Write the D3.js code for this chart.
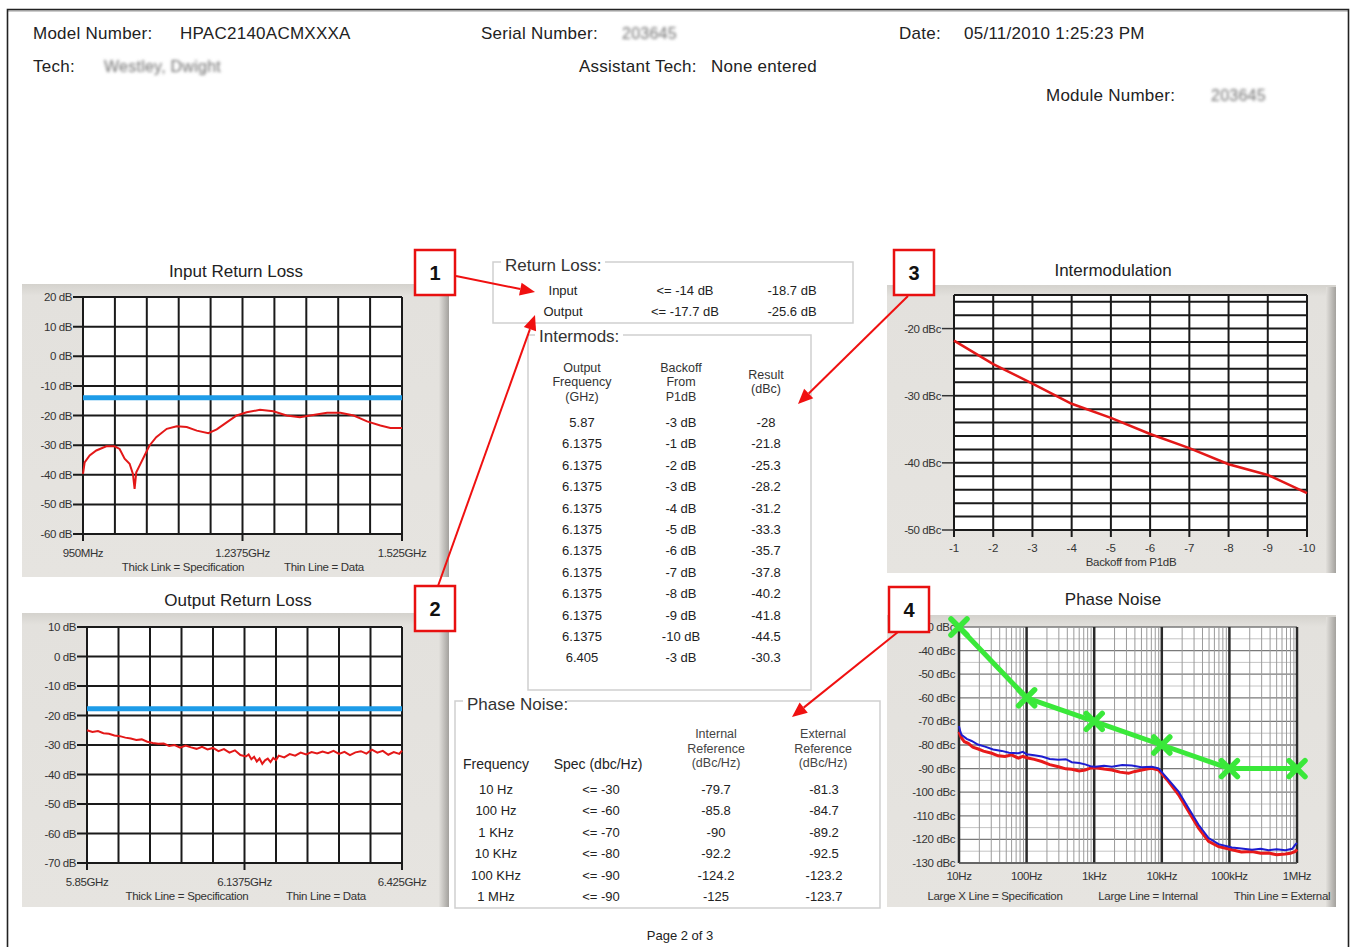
<!DOCTYPE html>
<html lang="en">
<head>
<meta charset="UTF-8">
<title>Test Report - Page 2</title>
<script src="https://d3js.org/d3.v7.min.js"></script>
<style>
  body { margin: 0; background: #fff; }
  svg { display: block; font-family: "Liberation Sans", Arial, sans-serif; }
</style>
</head>
<body>
<div id="page"></div>
<script>
// ---- header values
const headerModel = "HPAC2140ACMXXXA";
const headerSerial = "203645";
const headerDate = "05/11/2010 1:25:23 PM";
const headerTech = "Westley, Dwight";
const headerAssistant = "None entered";
const headerModule = "203645";

// ---- input return loss (MHz, dB)
const inputSpec = -14;
const inputFreqMHz = [950, 953, 962, 974, 992, 1007, 1016, 1025, 1034, 1040, 1043, 1046, 1052, 1061, 1070, 1082, 1101, 1119, 1137, 1155, 1176, 1191, 1209, 1227, 1245, 1269, 1293, 1317, 1341, 1365, 1390, 1414, 1438, 1462, 1486, 1504, 1525];
const inputRL = [-39.7, -35.8, -33.5, -31.8, -30.4, -30.4, -31.3, -34.6, -36.3, -39.7, -44.8, -39.2, -36.9, -33.5, -30.1, -27.3, -24.5, -23.6, -23.9, -25.1, -26.0, -24.7, -22.3, -20.0, -18.9, -18.1, -18.6, -20.0, -20.6, -19.8, -19.1, -19.1, -20.0, -22.0, -23.4, -24.2, -24.2];

// ---- output return loss (GHz, dB)
const outputSpec = -17.7;
const outputFreqGHz = [5.85, 5.86, 5.87, 5.88, 5.89, 5.90, 5.91, 5.92, 5.93, 5.94, 5.95, 5.96, 5.97, 5.98, 5.99, 6.00, 6.01, 6.02, 6.03, 6.04, 6.05, 6.06, 6.07, 6.08, 6.09, 6.10, 6.11, 6.12, 6.13, 6.14, 6.145, 6.15, 6.155, 6.16, 6.165, 6.17, 6.175, 6.18, 6.185, 6.19, 6.195, 6.20, 6.21, 6.22, 6.23, 6.24, 6.25, 6.26, 6.27, 6.28, 6.29, 6.30, 6.31, 6.32, 6.33, 6.34, 6.35, 6.36, 6.37, 6.38, 6.39, 6.40, 6.41, 6.42, 6.425];
const outputRL = [-25.0, -25.6, -25.3, -26.0, -26.2, -26.8, -27.0, -27.5, -27.8, -28.3, -28.1, -28.9, -29.3, -29.6, -29.5, -30.3, -30.0, -30.9, -30.2, -30.8, -31.3, -30.6, -31.5, -31.0, -32.1, -31.4, -32.6, -31.8, -33.4, -33.9, -33.2, -34.8, -34.0, -35.6, -34.6, -36.4, -35.2, -34.6, -35.8, -34.4, -35.1, -33.6, -34.2, -33.1, -33.6, -32.6, -33.2, -32.4, -32.9, -32.2, -32.8, -32.0, -33.0, -32.3, -33.4, -32.5, -32.1, -32.9, -31.6, -32.6, -32.0, -33.3, -32.4, -33.0, -31.9];

// ---- return loss summary table
const rlPorts = ["Input", "Output"];
const rlSpecs = ["<= -14 dB", "<= -17.7 dB"];
const rlResults = ["-18.7 dB", "-25.6 dB"];

// ---- intermods table
const imFreq = ["5.87", "6.1375", "6.1375", "6.1375", "6.1375", "6.1375", "6.1375", "6.1375", "6.1375", "6.1375", "6.1375", "6.405"];
const imBackoff = [-3, -1, -2, -3, -4, -5, -6, -7, -8, -9, -10, -3];
const imResult = [-28, -21.8, -25.3, -28.2, -31.2, -33.3, -35.7, -37.8, -40.2, -41.8, -44.5, -30.3];

// ---- phase noise table
const pnFreqLabels = ["10 Hz", "100 Hz", "1 KHz", "10 KHz", "100 KHz", "1 MHz"];
const pnSpecLabels = ["<= -30", "<= -60", "<= -70", "<= -80", "<= -90", "<= -90"];
const pnInternal = [-79.7, -85.8, -90, -92.2, -124.2, -125];
const pnExternal = [-81.3, -84.7, -89.2, -92.5, -123.2, -123.7];

// ---- phase noise plot
const specFreqHz = [10, 100, 1e3, 1e4, 1e5, 1e6];
const specLimit = [-30, -60, -70, -80, -90, -90];
const intFreqHz = [10, 10.5, 11, 12, 13.7, 16, 19.3, 23, 30.5, 38, 48, 60, 75.7, 88, 100, 130, 168, 220, 296, 380, 466, 600, 734, 880, 1033, 1400, 1824, 2400, 3216, 4000, 5070, 6000, 7130, 8950, 12590, 17700, 24900, 35000, 49200, 69200, 109000, 150000, 216000, 290000, 380000, 500000, 671000, 800000, 944000, 1e6];
const intNoise = [-74.4, -76.0, -77.2, -78.6, -79.3, -80.9, -81.7, -82.6, -83.5, -84.6, -84.9, -84.2, -85.6, -84.8, -85.4, -86.1, -87.0, -88.3, -89.2, -90.1, -90.3, -91.0, -90.6, -89.8, -89.6, -90.2, -90.6, -91.5, -92.0, -91.2, -90.6, -90.2, -89.9, -90.6, -95.5, -101.1, -108.2, -115.2, -120.8, -123.0, -124.4, -125.3, -125.1, -125.9, -125.8, -126.5, -126.2, -125.9, -125.1, -124.3];
const extFreqHz = [10, 10.5, 11, 13, 15.4, 19, 24.3, 32, 42.9, 55, 75.7, 88, 100, 130, 168, 220, 296, 380, 466, 600, 734, 880, 1033, 1400, 1824, 2600, 3605, 5000, 7130, 8950, 12590, 17700, 24900, 35000, 49200, 69200, 109000, 150000, 216000, 290000, 380000, 500000, 671000, 850000, 944000, 1e6];
const extNoise = [-72.0, -74.5, -75.8, -77.4, -78.3, -79.8, -80.7, -81.9, -82.5, -83.3, -83.5, -82.9, -83.9, -84.3, -84.9, -85.9, -86.3, -86.0, -87.3, -87.6, -88.2, -89.0, -89.2, -88.8, -89.2, -88.5, -88.7, -89.4, -89.2, -89.9, -94.8, -99.7, -106.8, -113.8, -119.4, -122.0, -123.4, -123.9, -124.4, -124.0, -124.6, -124.2, -124.6, -124.0, -122.2, -121.5];
const pnTickLabels = ["10Hz", "100Hz", "1kHz", "10kHz", "100kHz", "1MHz"];

const svg = d3.select("#page").append("svg")
    .attr("width", 1351)
    .attr("height", 947);

const defs = svg.append("defs");
defs.append("filter").attr("id", "blur")
    .attr("x", "-20%").attr("y", "-50%").attr("width", "140%").attr("height", "200%")
    .append("feGaussianBlur").attr("stdDeviation", 1.8);
const edge = defs.append("linearGradient").attr("id", "edge");
edge.append("stop").attr("offset", 0).attr("stop-color", "#e2e0dc");
edge.append("stop").attr("offset", 1).attr("stop-color", "#a3a19d");
const fill = defs.append("linearGradient").attr("id", "panelFill")
    .attr("x1", 0).attr("y1", 0).attr("x2", 0).attr("y2", 1);
fill.append("stop").attr("offset", 0).attr("stop-color", "#d4d2cd");
fill.append("stop").attr("offset", 0.04).attr("stop-color", "#e3e1dd");
fill.append("stop").attr("offset", 1).attr("stop-color", "#e6e4e0");

// page frame
svg.append("line").attr("x1", 7).attr("x2", 1349).attr("y1", 11).attr("y2", 11).attr("stroke", "#bbb").attr("stroke-width", 1.5);
svg.append("path").attr("d", "M7.5,947 V9.5 H1348.5 V947")
    .attr("fill", "none").attr("stroke", "#222").attr("stroke-width", 1.6);

// ---- header
function txt(g, x, y, s, size, anchor) {
    return g.append("text").attr("x", x).attr("y", y)
        .attr("font-size", size).attr("fill", "#222")
        .attr("text-anchor", anchor || "start").text(s);
}
const head = svg.append("g").attr("letter-spacing", 0.25);
txt(head, 33, 39, "Model Number:", 17);
txt(head, 180, 39, headerModel, 17);
txt(head, 481, 39, "Serial Number:", 17);
txt(head, 622, 39, headerSerial, 16).attr("fill", "#6f6f6f").attr("filter", "url(#blur)");
txt(head, 899, 39, "Date:", 17);
txt(head, 964, 39, headerDate, 17);
txt(head, 33, 72, "Tech:", 17);
txt(head, 104, 72, headerTech, 16).attr("fill", "#6f6f6f").attr("filter", "url(#blur)");
txt(head, 579, 72, "Assistant Tech:", 17);
txt(head, 711, 72, headerAssistant, 17);
txt(head, 1046, 101, "Module Number:", 17);
txt(head, 1211, 101, headerModule, 16).attr("fill", "#6f6f6f").attr("filter", "url(#blur)");

// gray chart panel with shaded right edge
function panel(x, y, w, h) {
    svg.append("rect").attr("x", x).attr("y", y).attr("width", w).attr("height", h).attr("fill", "url(#panelFill)");
    svg.append("rect").attr("x", x + w - 10).attr("y", y + 2).attr("width", 10).attr("height", h - 2).attr("fill", "url(#edge)");
}

// ---- return loss charts
function returnLossChart(c) {
    panel(c.panel[0], c.panel[1], c.panel[2], c.panel[3]);
    const g = svg.append("g");
    txt(g, c.titleX, c.titleY, c.title, 17, "middle");

    const x = d3.scaleLinear().domain(c.xDomain).range([c.x0, c.x1]);
    const y = d3.scaleLinear().domain(c.yDomain).range([c.y1, c.y0]);

    g.append("rect").attr("x", c.x0).attr("y", c.y0)
        .attr("width", c.x1 - c.x0).attr("height", c.y1 - c.y0).attr("fill", "#fff");

    const yTicks = d3.range(c.yDomain[0], c.yDomain[1] + 1, 10);
    g.selectAll(".hg").data(yTicks).join("line")
        .attr("x1", c.x0 - 10).attr("x2", c.x1)
        .attr("y1", d => y(d)).attr("y2", d => y(d))
        .attr("stroke", "#1a1a1a").attr("stroke-width", 2);
    g.selectAll(".yl").data(yTicks).join("text")
        .attr("x", c.x0 - 11).attr("y", d => y(d)).attr("dy", "0.35em")
        .attr("text-anchor", "end").attr("font-size", 11.5).attr("fill", "#333")
        .attr("letter-spacing", -0.4)
        .text(d => d + " dB");

    const step = (c.xDomain[1] - c.xDomain[0]) / 10;
    const xGrid = d3.range(11).map(i => c.xDomain[0] + i * step);
    g.selectAll(".vg").data(xGrid).join("line")
        .attr("x1", d => x(d)).attr("x2", d => x(d))
        .attr("y1", c.y0).attr("y2", (d, i) => (i % 5 === 0 ? c.y1 + 7 : c.y1))
        .attr("stroke", "#1a1a1a").attr("stroke-width", 2);
    g.selectAll(".xl").data(c.xLabels).join("text")
        .attr("x", (d, i) => x(xGrid[i * 5])).attr("y", c.xLabelY)
        .attr("text-anchor", "middle").attr("font-size", 11.5).attr("fill", "#333")
        .attr("letter-spacing", -0.4)
        .text(d => d);

    txt(g, c.legend[0][0], c.legendY, c.legend[0][1], 11.5, "middle").attr("letter-spacing", -0.3).attr("fill", "#333");
    txt(g, c.legend[1][0], c.legendY, c.legend[1][1], 11.5, "middle").attr("letter-spacing", -0.3).attr("fill", "#333");

    g.append("line").attr("x1", c.x0).attr("x2", c.x1)
        .attr("y1", y(c.spec)).attr("y2", y(c.spec))
        .attr("stroke", "#1e9ce8").attr("stroke-width", 5);

    const line = d3.line().x((d, i) => x(c.xs[i])).y(d => y(d));
    g.append("path").datum(c.ys).attr("d", line)
        .attr("fill", "none").attr("stroke", "#e31818").attr("stroke-width", 2);
}

returnLossChart({
    panel: [22, 284, 427, 293], title: "Input Return Loss", titleX: 236, titleY: 277,
    x0: 83, x1: 402, y0: 297, y1: 534,
    xDomain: [950, 1525], yDomain: [-60, 20],
    xLabels: ["950MHz", "1.2375GHz", "1.525GHz"], xLabelY: 557,
    legend: [[183, "Thick Link = Specification"], [324, "Thin Line = Data"]], legendY: 571,
    spec: inputSpec, xs: inputFreqMHz, ys: inputRL
});

returnLossChart({
    panel: [22, 613, 427, 294], title: "Output Return Loss", titleX: 238, titleY: 606,
    x0: 87, x1: 402, y0: 627, y1: 863,
    xDomain: [5.85, 6.425], yDomain: [-70, 10],
    xLabels: ["5.85GHz", "6.1375GHz", "6.425GHz"], xLabelY: 886,
    legend: [[187, "Thick Line = Specification"], [326, "Thin Line = Data"]], legendY: 900,
    spec: outputSpec, xs: outputFreqGHz, ys: outputRL
});

// ---- intermodulation chart
{
    panel(887, 285, 449, 288);
    const g = svg.append("g");
    txt(g, 1113, 276, "Intermodulation", 17, "middle");
    const x = d3.scaleLinear().domain([-1, -10]).range([954, 1307]);
    const y = d3.scaleLinear().domain([-50, -15]).range([530, 295]);
    g.append("rect").attr("x", 954).attr("y", 295).attr("width", 353).attr("height", 235).attr("fill", "#fff");

    g.selectAll(".hg").data(d3.range(-50, -15, 2).concat([-15])).join("line")
        .attr("x1", 954).attr("x2", 1307)
        .attr("y1", d => y(d)).attr("y2", d => y(d))
        .attr("stroke", "#1a1a1a").attr("stroke-width", 2);
    const yTicks = [-50, -40, -30, -20];
    g.selectAll(".yt").data(yTicks).join("line")
        .attr("x1", 942).attr("x2", 954)
        .attr("y1", d => y(d)).attr("y2", d => y(d))
        .attr("stroke", "#333").attr("stroke-width", 1.5);
    g.selectAll(".yl").data(yTicks).join("text")
        .attr("x", 941).attr("y", d => y(d)).attr("dy", "0.35em")
        .attr("text-anchor", "end").attr("font-size", 11.5).attr("fill", "#333")
        .attr("letter-spacing", -0.4).text(d => d + " dBc");

    const xTicks = d3.range(-1, -11, -1);
    g.selectAll(".vg").data(xTicks).join("line")
        .attr("x1", d => x(d)).attr("x2", d => x(d))
        .attr("y1", 295).attr("y2", 537)
        .attr("stroke", "#1a1a1a").attr("stroke-width", 2);
    g.selectAll(".xl").data(xTicks).join("text")
        .attr("x", d => x(d)).attr("y", 552)
        .attr("text-anchor", "middle").attr("font-size", 11.5).attr("fill", "#333")
        .text(d => d);
    txt(g, 1131, 566, "Backoff from P1dB", 11.5, "middle").attr("letter-spacing", -0.3).attr("fill", "#333");

    const rows = imBackoff.map((b, i) => ({ b: b, r: imResult[i], f: imFreq[i] }))
        .filter(d => d.f === "6.1375");
    g.append("path").datum(rows)
        .attr("d", d3.line().x(d => x(d.b)).y(d => y(d.r)))
        .attr("fill", "none").attr("stroke", "#e31818").attr("stroke-width", 2.5);
}

// ---- phase noise chart
{
    panel(887, 615, 449, 292);
    const g = svg.append("g");
    txt(g, 1113, 605, "Phase Noise", 17, "middle");
    const x = d3.scaleLog().domain([10, 1e6]).range([959, 1297]);
    const y = d3.scaleLinear().domain([-130, -30]).range([863, 627]);
    g.append("rect").attr("x", 959).attr("y", 627).attr("width", 338).attr("height", 236).attr("fill", "#fff");

    g.selectAll(".hg").data(d3.range(-130, -29, 5)).join("line")
        .attr("x1", 959).attr("x2", 1297)
        .attr("y1", d => y(d)).attr("y2", d => y(d))
        .attr("stroke", d => (d % 10 === 0 ? "#7a7a7a" : "#bdbdbd"))
        .attr("stroke-width", d => (d % 10 === 0 ? 1.3 : 0.9));

    const minors = [];
    [10, 100, 1e3, 1e4, 1e5].forEach(dec => d3.range(2, 10).forEach(k => minors.push(dec * k)));
    g.selectAll(".mg").data(minors).join("line")
        .attr("x1", d => x(d)).attr("x2", d => x(d)).attr("y1", 627).attr("y2", 863)
        .attr("stroke", "#9a9a9a").attr("stroke-width", 1);
    g.selectAll(".dg").data(specFreqHz).join("line")
        .attr("x1", d => x(d)).attr("x2", d => x(d)).attr("y1", 627).attr("y2", 863)
        .attr("stroke", "#2a2a2a").attr("stroke-width", 2.5);
    g.append("line").attr("x1", 959).attr("x2", 1297).attr("y1", 863).attr("y2", 863)
        .attr("stroke", "#555").attr("stroke-width", 1.5);

    g.selectAll(".yl").data(d3.range(-130, -29, 10)).join("text")
        .attr("x", 955).attr("y", d => y(d)).attr("dy", "0.35em")
        .attr("text-anchor", "end").attr("font-size", 11.5).attr("fill", "#333")
        .attr("letter-spacing", -0.4).text(d => d + " dBc");
    g.selectAll(".xl").data(specFreqHz).join("text")
        .attr("x", d => x(d)).attr("y", 880)
        .attr("text-anchor", "middle").attr("font-size", 11.5).attr("fill", "#333")
        .attr("letter-spacing", -0.4).text((d, i) => pnTickLabels[i]);
    txt(g, 995, 900, "Large X Line = Specification", 11.5, "middle").attr("letter-spacing", -0.3).attr("fill", "#333");
    txt(g, 1148, 900, "Large Line = Internal", 11.5, "middle").attr("letter-spacing", -0.3).attr("fill", "#333");
    txt(g, 1282, 900, "Thin Line = External", 11.5, "middle").attr("letter-spacing", -0.3).attr("fill", "#333");

    // measured curves
    g.append("path").datum(intNoise)
        .attr("d", d3.line().x((d, i) => x(intFreqHz[i])).y(d => y(d)))
        .attr("fill", "none").attr("stroke", "#e81a1a").attr("stroke-width", 3);
    g.append("path").datum(extNoise)
        .attr("d", d3.line().x((d, i) => x(extFreqHz[i])).y(d => y(d)))
        .attr("fill", "none").attr("stroke", "#1d1dd0").attr("stroke-width", 2);

    // specification line with X markers
    g.append("path").datum(specLimit)
        .attr("d", d3.line().x((d, i) => x(specFreqHz[i])).y(d => y(d)))
        .attr("fill", "none").attr("stroke", "#3ae83a").attr("stroke-width", 5);
    const s = 8;
    g.selectAll(".mk").data(specLimit).join("path")
        .attr("transform", (d, i) => `translate(${x(specFreqHz[i])},${y(d)})`)
        .attr("d", `M${-s},${-s}L${s},${s}M${-s},${s}L${s},${-s}`)
        .attr("stroke", "#3ae83a").attr("stroke-width", 5.5).attr("stroke-linecap", "round");
}

// ---- centre tables
function groupBox(x, y, w, h, title, tx, ty, tw) {
    svg.append("rect").attr("x", x).attr("y", y).attr("width", w).attr("height", h)
        .attr("fill", "none").attr("stroke", "#cfcfcf").attr("stroke-width", 1.5);
    svg.append("rect").attr("x", tx - 4).attr("y", y - 3).attr("width", tw).attr("height", 6).attr("fill", "#fff");
    txt(svg, tx, ty, title, 17).attr("fill", "#333");
}

groupBox(493, 262, 360, 61, "Return Loss:", 505, 271, 104);
rlPorts.forEach((p, i) => {
    const yy = 295 + i * 21;
    txt(svg, 563, yy, p, 13, "middle");
    txt(svg, 685, yy, rlSpecs[i], 13, "middle");
    txt(svg, 792, yy, rlResults[i], 13, "middle");
});

groupBox(528, 335, 283, 355, "Intermods:", 539, 342, 88);
["Output", "Frequency", "(GHz)"].forEach((l, k) => txt(svg, 582, 372 + k * 14.4, l, 12.5, "middle").attr("fill", "#333"));
["Backoff", "From", "P1dB"].forEach((l, k) => txt(svg, 681, 372 + k * 14.4, l, 12.5, "middle").attr("fill", "#333"));
["Result", "(dBc)"].forEach((l, k) => txt(svg, 766, 379 + k * 14.4, l, 12.5, "middle").attr("fill", "#333"));
imFreq.forEach((f, i) => {
    const yy = 427 + i * 21.4;
    txt(svg, 582, yy, f, 13, "middle");
    txt(svg, 681, yy, imBackoff[i] + " dB", 13, "middle");
    txt(svg, 766, yy, imResult[i], 13, "middle");
});

groupBox(455, 701, 425, 207, "Phase Noise:", 467, 710, 104);
txt(svg, 496, 769, "Frequency", 14, "middle");
txt(svg, 598, 769, "Spec (dbc/Hz)", 14, "middle");
["Internal", "Reference", "(dBc/Hz)"].forEach((l, k) => txt(svg, 716, 738 + k * 14.6, l, 12.5, "middle").attr("fill", "#444"));
["External", "Reference", "(dBc/Hz)"].forEach((l, k) => txt(svg, 823, 738 + k * 14.6, l, 12.5, "middle").attr("fill", "#444"));
pnFreqLabels.forEach((f, i) => {
    const yy = 794 + i * 21.4;
    txt(svg, 496, yy, f, 13, "middle");
    txt(svg, 601, yy, pnSpecLabels[i], 13, "middle");
    txt(svg, 716, yy, pnInternal[i], 13, "middle");
    txt(svg, 824, yy, pnExternal[i], 13, "middle");
});

txt(svg, 680, 940, "Page 2 of 3", 13, "middle");

// ---- red call-outs
function arrow(x1, y1, x2, y2) {
    const a = Math.atan2(y2 - y1, x2 - x1), len = 15, half = 6.5;
    const bx = x2 - len * Math.cos(a), by = y2 - len * Math.sin(a);
    svg.append("line").attr("x1", x1).attr("y1", y1).attr("x2", bx).attr("y2", by)
        .attr("stroke", "#f01010").attr("stroke-width", 2);
    svg.append("path")
        .attr("d", `M${x2},${y2}L${bx - half * Math.sin(a)},${by + half * Math.cos(a)}L${bx + half * Math.sin(a)},${by - half * Math.cos(a)}Z`)
        .attr("fill", "#f01010");
}
arrow(456, 276, 535, 292);
arrow(438, 586, 535, 315);
arrow(908, 296, 798, 404);
arrow(898, 632, 792, 717);

const callouts = [[415, 250, "1"], [415, 586, "2"], [894, 250, "3"], [889, 587, "4"]];
callouts.forEach(c => {
    svg.append("rect").attr("x", c[0]).attr("y", c[1]).attr("width", 40).attr("height", 45)
        .attr("fill", "#fff").attr("stroke", "#e81010").attr("stroke-width", 2.5);
    svg.append("text").attr("x", c[0] + 20).attr("y", c[1] + 30)
        .attr("text-anchor", "middle").attr("font-size", 20).attr("font-weight", "bold")
        .attr("fill", "#111").text(c[2]);
});
</script>
</body>
</html>
